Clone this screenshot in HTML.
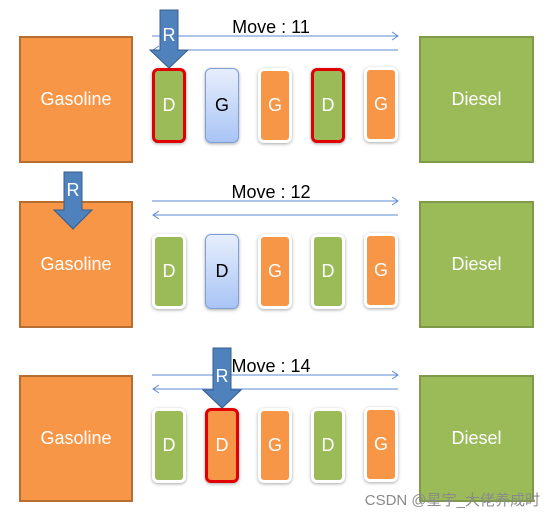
<!DOCTYPE html>
<html><head><style>
body{margin:0;width:554px;height:518px;background:#fff;position:relative;overflow:hidden;font-family:"Liberation Sans","Noto Sans CJK SC",sans-serif}
.big{position:absolute;width:114px;height:127px;border:2px solid #b66d31;color:#fff;font-size:18px;display:flex;align-items:center;justify-content:center;box-sizing:border-box}
.gas{background:#f79646;left:19px}
.die{background:#9bbb59;border-color:#7f9a48;left:419px;width:115px}
.c{position:absolute;width:34px;height:75px;border:3px solid #fff;border-radius:6px;box-sizing:border-box;color:#fff;font-size:18px;display:flex;align-items:center;justify-content:center;box-shadow:0 1px 3px rgba(0,0,0,.35)}
.o{background:#f79646}.g{background:#9bbb59}
.b{background:linear-gradient(#e6eefc,#a9c4f5);border:1px solid #7c9fd6;color:#000}
.r{border:3px solid #e00000}
.t{position:absolute;font-size:18px;color:#000;width:200px;text-align:center;left:171px}
</style></head><body>
<div class="big gas" style="top:36px">Gasoline</div>
<div class="big die" style="top:36px">Diesel</div>
<div class="big gas" style="top:201px">Gasoline</div>
<div class="big die" style="top:201px">Diesel</div>
<div class="big gas" style="top:375px">Gasoline</div>
<div class="big die" style="top:375px">Diesel</div>

<div class="c g r" style="left:152px;top:68px">D</div>
<div class="c b" style="left:205px;top:68px">G</div>
<div class="c o" style="left:258px;top:68px">G</div>
<div class="c g r" style="left:311px;top:68px">D</div>
<div class="c o" style="left:364px;top:67px">G</div>

<div class="c g" style="left:152px;top:234px">D</div>
<div class="c b" style="left:205px;top:234px">D</div>
<div class="c o" style="left:258px;top:234px">G</div>
<div class="c g" style="left:311px;top:234px">D</div>
<div class="c o" style="left:364px;top:233px">G</div>

<div class="c g" style="left:152px;top:408px">D</div>
<div class="c o r" style="left:205px;top:408px">D</div>
<div class="c o" style="left:258px;top:408px">G</div>
<div class="c g" style="left:311px;top:408px">D</div>
<div class="c o" style="left:364px;top:407px">G</div>

<div class="t" style="top:17px">Move : 11</div>
<div class="t" style="top:182px">Move : 12</div>
<div class="t" style="top:356px">Move : 14</div>

<svg width="554" height="518" style="position:absolute;left:0;top:0" fill="none">
<g stroke="#5b8bd0" stroke-width="1">
<path d="M152 36H398M392 32l6 4-6 4"/><path d="M398 50H153M159 46l-6 4 6 4"/>
<path d="M152 201H398M392 197l6 4-6 4"/><path d="M398 215H153M159 211l-6 4 6 4"/>
<path d="M152 375H398M392 371l6 4-6 4"/><path d="M398 389H153M159 385l-6 4 6 4"/>
</g>
<g fill="#4f81bd" stroke="#385d8a" stroke-width="1">
<path d="M160 10H178V50H188L169 68L150 50H160Z"/>
<path d="M64 172H82V210H92L73 229L54 210H64Z"/>
<path d="M213 348H231V390H241L222 408L203 390H213Z"/>
</g>
<g fill="#fff" font-size="18" font-family="Liberation Sans" text-anchor="middle">
<text x="169" y="41">R</text><text x="73" y="196">R</text><text x="222" y="382">R</text>
</g>
<text x="540" y="505" fill="#8a8a8a" font-size="15" text-anchor="end" font-family="Liberation Sans,Noto Sans CJK SC,sans-serif">CSDN @星宇_大佬养成时</text>
</svg>
</body></html>
